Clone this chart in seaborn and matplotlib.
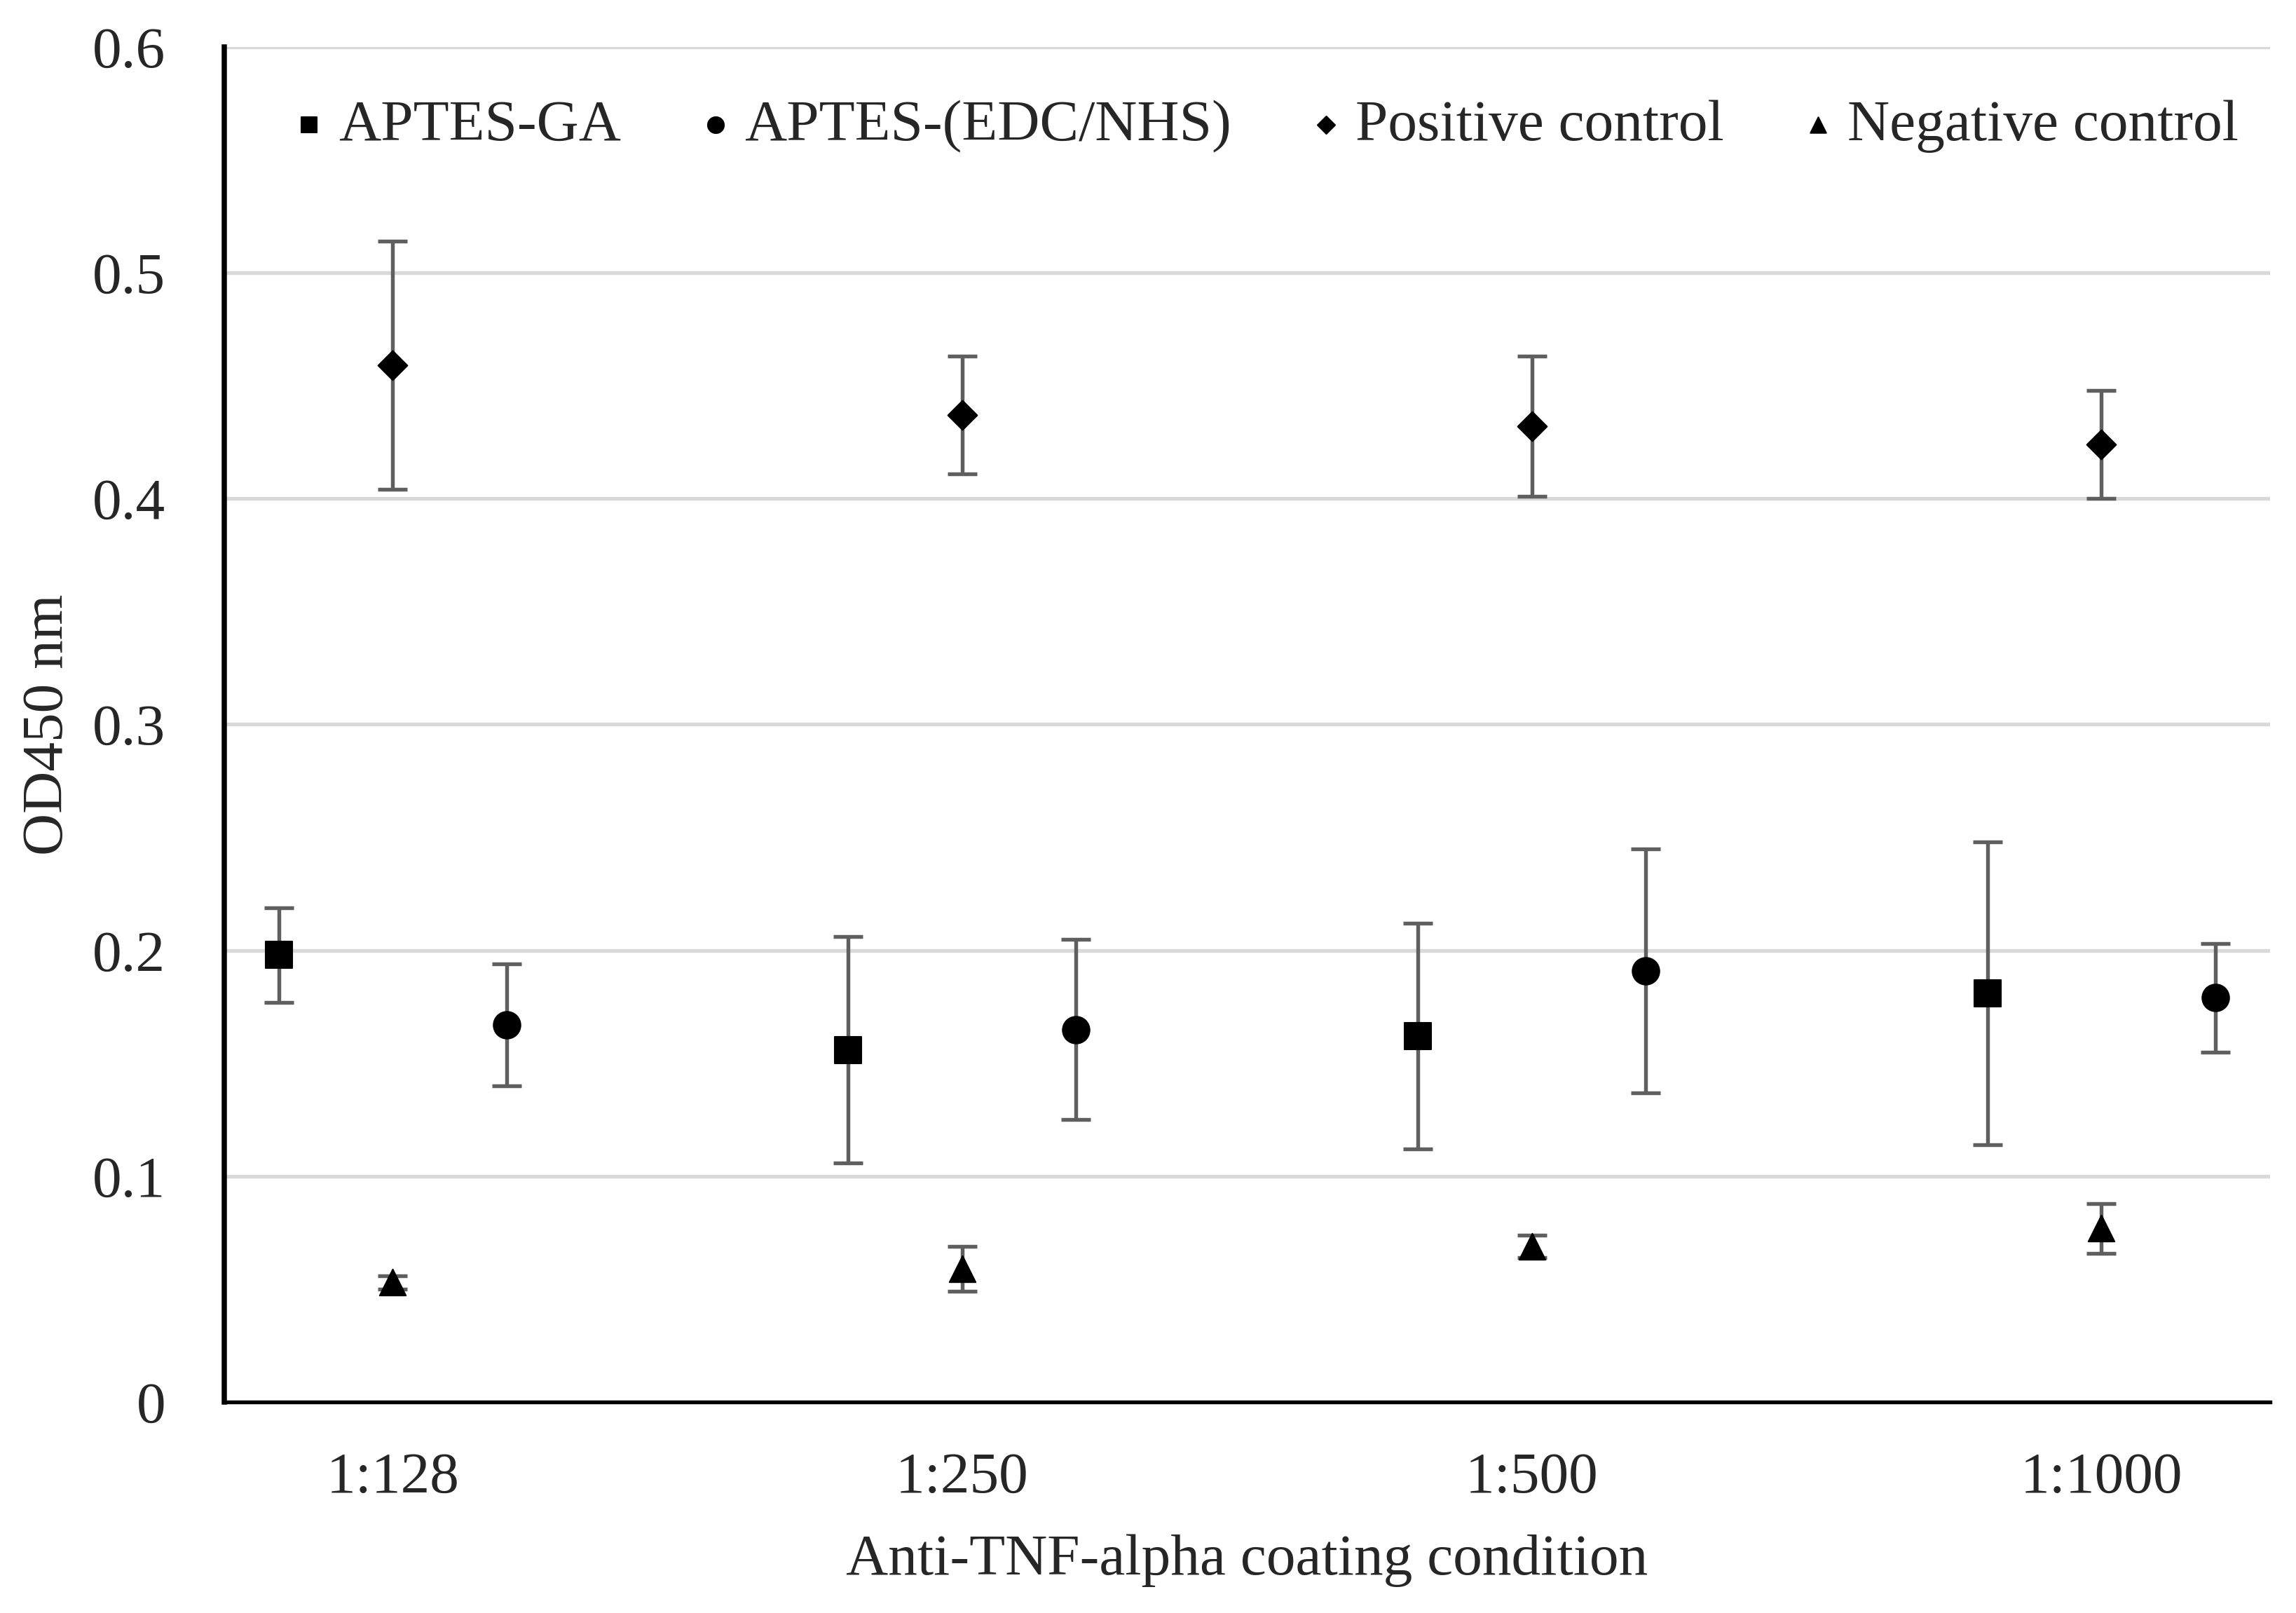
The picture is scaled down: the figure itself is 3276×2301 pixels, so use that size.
import numpy as np
import matplotlib.pyplot as plt
import seaborn as sns
import pandas as pd

# 数据
conditions = ['1:128', '1:250', '1:500', '1:1000']
series = ['APTES-GA', 'APTES-(EDC/NHS)', 'Positive control', 'Negative control']
ga_mean = [0.198, 0.156, 0.162, 0.181]
ga_err = [0.021, 0.050, 0.050, 0.067]
edc_mean = [0.167, 0.165, 0.191, 0.179]
edc_err = [0.027, 0.040, 0.054, 0.024]
pos_mean = [0.459, 0.437, 0.432, 0.424]
pos_err = [0.055, 0.026, 0.031, 0.024]
neg_mean = [0.053, 0.059, 0.069, 0.077]
neg_err = [0.003, 0.010, 0.005, 0.011]

sns.set_style('white')
plt.rcParams['font.family'] = ['Liberation Serif', 'DejaVu Serif']

means = [ga_mean, edc_mean, pos_mean, neg_mean]
errs = [ga_err, edc_err, pos_err, neg_err]
offsets = {'APTES-GA': -0.2, 'APTES-(EDC/NHS)': 0.2,
           'Positive control': 0.0, 'Negative control': 0.0}
markers = {'APTES-GA': 's', 'APTES-(EDC/NHS)': 'o',
           'Positive control': 'D', 'Negative control': '^'}
sizes = {'APTES-GA': 80, 'APTES-(EDC/NHS)': 85,
         'Positive control': 50, 'Negative control': 80}

rows = []
for s, m, e in zip(series, means, errs):
    for i, c in enumerate(conditions):
        rows.append({'series': s, 'cond': c, 'x': i + 1 + offsets[s], 'y': m[i], 'err': e[i]})
df = pd.DataFrame(rows)

fs = 20
fig = plt.figure(figsize=(10.92, 7.67), dpi=300)
ax = fig.add_axes([0.0976, 0.1307, 0.891, 0.8403])

# 误差线
ax.errorbar(df['x'], df['y'], yerr=df['err'], fmt='none', ecolor='#5f5f5f',
            elinewidth=1.3, capsize=5, capthick=1.3, zorder=2)

for s in series:
    sub = df[df['series'] == s]
    sns.scatterplot(data=sub, x='x', y='y', marker=markers[s], s=sizes[s],
                    color='black', edgecolor='black', linewidth=0.5,
                    ax=ax, label=s, zorder=3)

ax.set_xlim(0.704, 4.296)
ax.set_ylim(0, 0.6)
ax.set_yticks(np.arange(0, 0.61, 0.1))
ax.set_yticklabels(['0'] + [f'{v:.1f}' for v in np.arange(0.1, 0.61, 0.1)])
ax.set_xticks(range(1, len(conditions) + 1))
ax.set_xticklabels(conditions)
ax.tick_params(axis='both', length=0, labelsize=fs)
ax.tick_params(axis='x', pad=17)
ax.tick_params(axis='y', pad=20)

ax.yaxis.grid(True, color='#d9d9d9', linewidth=1.3)
ax.xaxis.grid(False)
ax.set_axisbelow(True)
for sp in ['top', 'right']:
    ax.spines[sp].set_visible(False)
ax.spines['left'].set_color('black')
ax.spines['left'].set_linewidth(1.8)
ax.spines['bottom'].set_color('black')
ax.spines['bottom'].set_linewidth(1.3)

ax.set_xlabel('Anti-TNF-alpha coating condition', fontsize=fs, labelpad=10)
ax.set_ylabel('OD450 nm', fontsize=fs, labelpad=6)

leg = ax.legend(loc='upper center', ncol=4, frameon=False, fontsize=fs,
                bbox_to_anchor=(0.506, 1.0), handletextpad=0.0, columnspacing=1.12,
                markerscale=0.6, handlelength=1.0)

fig.savefig('out.png', dpi=300)
